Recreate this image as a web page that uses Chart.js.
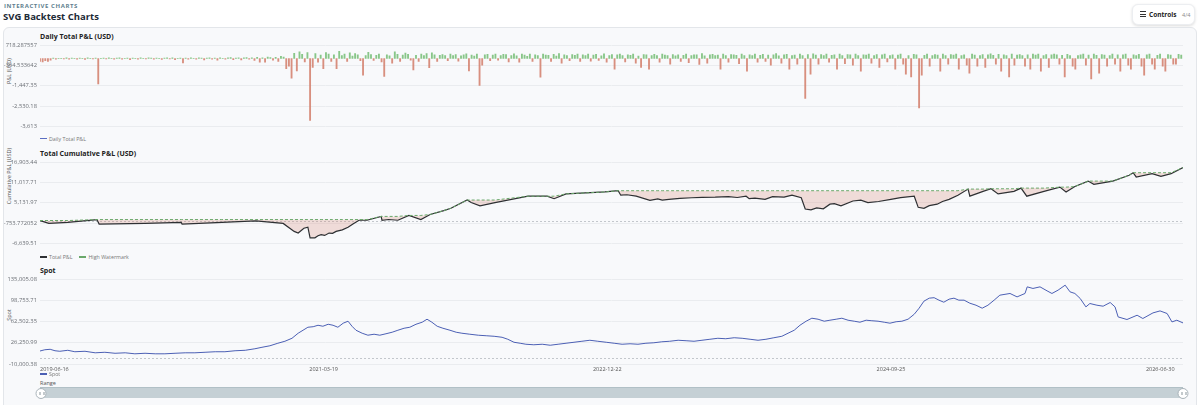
<!DOCTYPE html>
<html lang="en">
<head>
<meta charset="utf-8">
<title>SVG Backtest Charts</title>
<script src="https://cdn.jsdelivr.net/npm/chart.js@4.4.1/dist/chart.umd.min.js"></script>
<style>
  html, body { margin: 0; padding: 0; background: #fff; }
  body { width: 1199px; height: 405px; position: relative; overflow: hidden;
         font-family: "Open Sans", "Noto Sans", sans-serif; }
  div, canvas { position: absolute; }
  .eyebrow { left: 4px; top: 2px; font-size: 6px; line-height: 8px; font-weight: 700; letter-spacing: 0.6px; color: #5f7f8f; }
  .heading { left: 3px; top: 10px; font-size: 9.5px; line-height: 13px; font-weight: 700; color: #1d2a36; }
  .controls { left: 1132px; top: 4px; width: 61px; height: 19px; background: #fff; border-radius: 6px;
              box-shadow: 0 1px 3px rgba(0,0,0,0.14); border: 1px solid #eceef1; }
  .burger { left: 7px; top: 6px; width: 6px; height: 6px; border-top: 1px solid #333; border-bottom: 1px solid #333; box-sizing: border-box; }
  .burger::after { content: ""; position: absolute; left: 0; top: 1.5px; width: 6px; height: 1px; background: #333; }
  .ctl-text { left: 16px; top: 5px; font-size: 6.5px; line-height: 9px; font-weight: 700; color: #222; white-space: nowrap; }
  .ctl-count { left: 49px; top: 5.5px; font-size: 5.5px; line-height: 9px; color: #888; }
  .card { left: 3px; top: 27px; width: 1192px; height: 400px; background: #f8f9fb; border: 1px solid #e3e6ea; border-radius: 6px; }
  .ptitle { left: 40px; font-size: 7px; line-height: 9px; font-weight: 700; color: #222; white-space: nowrap; }
  .ytitle { left: 9px; font-size: 5.5px; line-height: 7px; color: #555; white-space: nowrap;
            transform: translate(-50%, -50%) rotate(-90deg); }
  .legend { left: 40px; height: 7px; display: flex; align-items: center; font-size: 5.3px; color: #777; white-space: nowrap; }
  .legend span { position: static; display: inline-block; }
  .sw { width: 7px; height: 1.5px; margin-right: 2px; }
  .gap { width: 7px; }
  .range-label { left: 40px; top: 380px; font-size: 5.5px; line-height: 7px; color: #555; }
  .track { left: 40px; top: 387px; width: 1143px; height: 11px; background: #c5d0d5; border-top: 1px solid #b1c0c6; box-sizing: border-box; }
  .handle { top: 387.5px; width: 11px; height: 11px; border-radius: 50%; background: #fff; border: 1px solid #a9b3b9; box-sizing: border-box;
            transform: translateX(-50%); }
  .handle::after { content: ""; position: absolute; left: 3px; top: 3px; width: 3px; height: 3px;
                   border-left: 1px solid #8a959b; border-right: 1px solid #8a959b; }
</style>
</head>
<body>
<div class="eyebrow">INTERACTIVE CHARTS</div>
<div class="heading">SVG Backtest Charts</div>
<div class="controls">
  <div class="burger"></div>
  <div class="ctl-text">Controls</div>
  <div class="ctl-count">4/4</div>
</div>
<div class="card"></div>

<div class="ptitle" style="top:32px">Daily Total P&amp;L (USD)</div>
<div class="ytitle" style="top:71px">P&amp;L (USD)</div>
<canvas id="pnlChart" width="1199" height="95" style="left:0;top:38px;width:1199px;height:95px"></canvas>
<div class="legend" style="top:135px"><span class="sw" style="background:#5b6ec2"></span>Daily Total P&amp;L</div>

<div class="ptitle" style="top:149px">Total Cumulative P&amp;L (USD)</div>
<div class="ytitle" style="top:176px">Cumulative P&amp;L (USD)</div>
<canvas id="cumChart" width="1199" height="95" style="left:0;top:155px;width:1199px;height:95px"></canvas>
<div class="legend" style="top:253px"><span class="sw" style="background:#2e3033;height:2px"></span>Total P&amp;L<span class="gap"></span><span class="sw" style="background:#6aa86a;height:2px"></span>High Watermark</div>

<div class="ptitle" style="top:266px">Spot</div>
<div class="ytitle" style="top:315px">Spot</div>
<canvas id="spotChart" width="1199" height="104" style="left:0;top:272px;width:1199px;height:104px"></canvas>
<div class="legend" style="top:370.5px"><span class="sw" style="background:#4b5fb4"></span>Spot</div>

<div class="range-label">Range</div>
<div class="track"></div>
<div class="handle" style="left:40.5px"></div>
<div class="handle" style="left:1183px"></div>

<script>
const FONT = '"Open Sans", "Noto Sans", sans-serif';
const XMAX = 2590; // days shown on the shared date axis

// shared date axis (days since 2019-06-16)
const xTickDays = [0, 642.75, 1285.5, 1928.25, 2571];
const xTickLabels = ['2019-06-16', '2021-03-19', '2022-12-22', '2024-09-25', '2026-06-30'];

// daily P&L, one bar every 6 days
const pnlStepDays = 6;
const pnlDaily = [
  -150, -180, -120, -160, -90, 20, -30, 15, 10, -20, 30, -40,
  25, 10, -30, 20, 15, -50, 30, 10, -20, 25, -1350, 15,
  20, -25, 30, 10, -40, 20, 35, -30, 15, 25, -60, 20,
  10, -40, 30, 15, -20, 40, 20, -30, 25, 15, -50, 20,
  35, -20, 30, -60, 15, 25, -240, 20, -30, 35, 15, -40,
  30, 20, -70, 25, 40, -30, 20, -90, 35, 15, -40, 30,
  45, -60, 25, 40, -80, 30, 50, -40, 35, -100, 60, -200,
  40, -200, 70, 45, -90, 60, -150, 120, 80, -540, -410, -1050,
  280, -660, 350, 220, -180, 310, -3290, -470, 260, -200, 180, -540,
  320, 240, -150, 200, -540, 380, 160, 240, -150, 300, 130, 260,
  190, -120, -880, 150, 330, 210, -100, 170, 240, -180, -950, 200,
  140, -250, 360, 220, -150, 180, 290, 220, -90, -610, 170, -150,
  240, 150, 260, -490, 300, 190, -150, 170, 210, 150, -120, 230,
  160, 210, -140, 140, 190, 250, -660, 180, 130, 240, -1430, -350,
  200, 220, -120, 180, 240, -90, 150, 220, 210, -180, 160, 250,
  140, -200, 230, 180, 120, 240, -160, 200, 150, -985, 240, 180,
  170, -150, 220, 130, 260, -250, 190, 150, -120, 210, 170, 230,
  -160, 200, 150, 240, -140, 180, 220, -100, 140, 250, -200, 160,
  210, -570, 190, 230, 150, -180, 200, 170, 240, -250, 130, -470,
  210, 190, -570, 160, 220, 150, -200, 240, 180, 160, -300, 210,
  140, 200, -150, 170, 230, -220, 150, 190, 200, -310, 260, 140,
  -250, 190, 220, 160, 180, -570, 240, 150, -200, 210, 190, 170,
  -280, 230, 160, -670, 200, 150, 240, -190, 170, 220, -150, 180,
  -360, 200, 260, 140, -250, 190, 220, -570, 160, 180, -300, 240,
  150, -2120, 210, -830, 250, 180, -300, 210, 150, 230, -200, 170,
  200, -570, 240, 160, -280, 210, 190, -350, 230, 150, -670, 200,
  180, 240, -250, 160, 210, -470, 190, 230, -180, 150, 200, -570,
  180, 240, -300, -830, 160, -980, 220, 190, -2630, -880, 170, 240,
  -400, 150, 210, 180, -670, 240, 150, -300, 210, 180, 230, -570,
  160, 200, -350, -780, 230, 180, -400, 150, 210, -470, 200, 250,
  170, -300, 220, -670, 190, 150, -980, 230, -350, 180, 210, 160,
  -400, 200, -570, 230, 180, 240, -670, 160, 210, -470, 190, 240,
  200, -300, 170, -980, 220, 160, -400, -570, 150, 190, 230, -350,
  180, -1090, 230, 170, -780, 210, 180, -400, 160, 240, -300, 200,
  -670, 190, 230, -350, -570, 200, 150, 220, -400, -880, 190, 240,
  -300, -570, 170, 230, -400, -670, 210, 180, -300, -300, 220, 180
];
const pnlTicks = [718.287557, -364.533642, -1447.35, -2530.18, -3613];
const pnlTickLabels = ['718.287557', '-364.533642', '-1,447.35', '-2,530.18', '-3,613'];

// cumulative P&L and its high watermark
const cumDays = [0, 20, 63, 129, 134, 238, 320, 322, 412, 489,
  551, 576, 585, 598, 607, 612, 623, 630, 637, 645,
  655, 663, 671, 685, 698, 710, 723, 741, 773, 775,
  790, 811, 836, 863, 884, 915, 931, 968, 977, 997,
  1031, 1106, 1149, 1165, 1192, 1280, 1310, 1316, 1330, 1351,
  1382, 1400, 1410, 1425, 1450, 1477, 1500, 1530, 1560, 1580,
  1600, 1607, 1620, 1643, 1660, 1686, 1704, 1725, 1734, 1747,
  1760, 1775, 1790, 1800, 1815, 1842, 1860, 1876, 1900, 1928,
  1950, 1981, 1990, 2003, 2015, 2033, 2045, 2060, 2080, 2103,
  2107, 2137, 2155, 2171, 2207, 2223, 2236, 2275, 2311, 2325,
  2345, 2375, 2388, 2431, 2468, 2477, 2484, 2520, 2540, 2563,
  2590];
const cumPnl = [0, -830, -560, 280, -1030, -830, -560, -1030, -560, -80,
  -830, -3140, -3610, -2220, -1940, -5000, -5000, -4400, -4080, -4300,
  -3610, -3700, -3140, -2700, -1940, -900, 80, 80, 1190, 80,
  300, 80, 1470, 280, 1750, 2860, 3530, 5920, 5190, 4250,
  5190, 7030, 7030, 6300, 7700, 8250, 8610, 7310, 7450, 7030,
  5830, 6250, 5900, 6110, 6400, 6580, 6700, 6750, 6900, 6650,
  7030, 6310, 6450, 6110, 6900, 6750, 7310, 6580, 3330, 3060,
  3650, 3400, 4720, 4900, 4250, 5640, 5900, 5190, 5500, 6110,
  6600, 7030, 3810, 3530, 4300, 4720, 5500, 6110, 7300, 9080,
  7030, 8420, 9170, 7700, 8420, 9360, 7030, 8420, 9640, 8250,
  9810, 11390, 10470, 11390, 13060, 13810, 12580, 13530, 12780, 13530,
  15300];
const highWatermark = [0, 0, 0, 280, 280, 280, 280, 280, 280, 280,
  280, 280, 280, 280, 280, 280, 280, 280, 280, 280,
  280, 280, 280, 280, 280, 280, 280, 280, 1190, 1190,
  1190, 1190, 1470, 1470, 1750, 2860, 3530, 5920, 5920, 5920,
  5920, 7030, 7030, 7030, 7700, 8250, 8610, 8610, 8610, 8610,
  8610, 8610, 8610, 8610, 8610, 8610, 8610, 8610, 8610, 8610,
  8610, 8610, 8610, 8610, 8610, 8610, 8610, 8610, 8610, 8610,
  8610, 8610, 8610, 8610, 8610, 8610, 8610, 8610, 8610, 8610,
  8610, 8610, 8610, 8610, 8610, 8610, 8610, 8610, 8610, 9080,
  9080, 9080, 9170, 9170, 9170, 9360, 9360, 9360, 9640, 9640,
  9810, 11390, 11390, 11390, 13060, 13810, 13810, 13810, 13810, 13810,
  15300];
const cumTicks = [16903.44, 11017.71, 5131.97, -753.772052, -6639.51];
const cumTickLabels = ['16,903.44', '11,017.71', '5,131.97', '-753.772052', '-6,639.51'];

// spot price
const spotDays = [0, 11, 23, 34, 45, 63, 79, 102, 125, 147,
  170, 193, 215, 238, 261, 283, 306, 329, 351, 374,
  397, 419, 442, 465, 487, 503, 521, 539, 555, 571,
  585, 596, 607, 619, 630, 641, 653, 664, 675, 687,
  698, 707, 716, 730, 743, 757, 770, 784, 798, 811,
  825, 838, 852, 866, 877, 888, 900, 913, 929, 943,
  956, 974, 993, 1011, 1029, 1047, 1060, 1074, 1088, 1101,
  1119, 1138, 1156, 1174, 1192, 1210, 1228, 1246, 1264, 1283,
  1301, 1319, 1337, 1355, 1373, 1391, 1409, 1427, 1446, 1464,
  1482, 1500, 1518, 1536, 1554, 1573, 1591, 1609, 1627, 1645,
  1663, 1681, 1695, 1709, 1722, 1736, 1749, 1763, 1777, 1790,
  1804, 1817, 1831, 1845, 1858, 1872, 1885, 1899, 1913, 1926,
  1940, 1953, 1967, 1981, 1992, 2003, 2015, 2026, 2037, 2048,
  2060, 2071, 2082, 2094, 2107, 2121, 2135, 2148, 2162, 2175,
  2198, 2214, 2232, 2237, 2250, 2266, 2282, 2293, 2307, 2323,
  2334, 2345, 2357, 2370, 2379, 2395, 2409, 2425, 2436, 2443,
  2463, 2486, 2499, 2522, 2538, 2554, 2565, 2576, 2590];
const spotPrice = [12200, 14300, 15100, 12600, 11700, 13400, 10900, 11700, 9100, 10000,
  8300, 9100, 7400, 8300, 7400, 7400, 8300, 9100, 9100, 10000,
  10900, 10900, 12600, 13400, 16000, 18500, 21100, 25400, 28800, 33900,
  42500, 47600, 52700, 53600, 56100, 54400, 57800, 56100, 52700, 59600,
  63000, 54400, 47600, 42500, 39100, 40800, 39100, 41600, 44200, 47600,
  51000, 52700, 57800, 61300, 66400, 61300, 54400, 51000, 47600, 44200,
  42500, 40800, 39100, 38200, 37300, 35600, 32200, 27100, 25400, 23700,
  22800, 23700, 22000, 23700, 25400, 27100, 28800, 30500, 28800, 27100,
  25400, 23700, 24500, 23700, 25400, 26200, 27900, 28800, 30500, 29700,
  28800, 30500, 32200, 33900, 33100, 34800, 33900, 32200, 30500, 32200,
  34800, 37300, 42500, 47600, 56100, 63000, 68100, 66400, 63000, 64700,
  66400, 68100, 64700, 63000, 61300, 64700, 63800, 63000, 61300, 59600,
  62100, 63000, 66400, 74900, 85200, 97200, 102300, 103100, 98900, 95400,
  100600, 102300, 98900, 98900, 93700, 90300, 85200, 90300, 98900, 107400,
  110300, 104500, 110300, 121600, 118900, 121600, 114800, 110300, 116000, 124500,
  113100, 110300, 101800, 87400, 93200, 90300, 88600, 94900, 87400, 70300,
  65900, 73200, 67600, 77200, 80600, 76100, 61800, 64700, 60100];
const spotTicks = [135005.08, 98753.71, 62502.35, 26250.99, -10000.38];
const spotTickLabels = ['135,005.08', '98,753.71', '62,502.35', '26,250.99', '-10,000.38'];

// dotted line at zero
const zeroLine = {
  id: 'zeroLine',
  beforeDatasetsDraw(chart) {
    const { ctx, chartArea, scales } = chart;
    const y = Math.round(scales.y.getPixelForValue(0)) + 0.5;
    ctx.save();
    ctx.strokeStyle = '#c3c7cc';
    ctx.lineWidth = 1;
    ctx.setLineDash([2, 2]);
    ctx.beginPath();
    ctx.moveTo(chartArea.left, y);
    ctx.lineTo(chartArea.right, y);
    ctx.stroke();
    ctx.restore();
  }
};

function yAxis(ticks, labels) {
  return {
    min: ticks[ticks.length - 1],
    max: ticks[0],
    afterFit: s => { s.width = 40; },
    afterBuildTicks: s => { s.ticks = ticks.map(v => ({ value: v })); },
    ticks: {
      callback: v => labels[ticks.indexOf(v)],
      font: { family: FONT, size: 5.8 },
      color: '#6b6f75',
      padding: 3
    },
    grid: { color: '#eaecef', drawTicks: false },
    border: { display: false }
  };
}

function xAxis(show) {
  return {
    type: 'linear',
    min: 0,
    max: XMAX,
    offset: false,
    display: show,
    afterBuildTicks: s => { s.ticks = xTickDays.map(v => ({ value: v })); },
    afterFit: s => { s.height = show ? 10 : 0; },
    ticks: {
      callback: v => xTickLabels[xTickDays.indexOf(v)],
      align: 'inner',
      maxRotation: 0,
      autoSkip: false,
      font: { family: FONT, size: 5.5 },
      color: '#555',
      padding: 2
    },
    grid: { display: false, drawTicks: false, offset: false },
    border: { display: false }
  };
}

function baseOptions(yTicks, yLabels, showX, padTop, padBottom) {
  return {
    responsive: false,
    animation: false,
    events: [],
    layout: { padding: { left: 0, right: 16, top: padTop, bottom: padBottom } },
    plugins: { legend: { display: false }, tooltip: { enabled: false }, title: { display: false } },
    scales: { x: xAxis(showX), y: yAxis(yTicks, yLabels) }
  };
}

window.onload = function () {
  new Chart(document.getElementById('pnlChart').getContext('2d'), {
    type: 'bar',
    data: {
      datasets: [{
        label: 'Daily Total P&L',
        data: pnlDaily.map((v, i) => ({ x: i * pnlStepDays, y: v })),
        backgroundColor: c => (c.parsed && c.parsed.y < 0 ? 'rgba(210,125,105,0.85)' : 'rgba(108,185,108,0.8)'),
        barThickness: 1.2,
        borderWidth: 0
      }]
    },
    options: baseOptions(pnlTicks, pnlTickLabels, false, 7, 4)
  });

  new Chart(document.getElementById('cumChart').getContext('2d'), {
    type: 'line',
    data: {
      datasets: [{
        label: 'Total P&L',
        data: cumDays.map((d, i) => ({ x: d, y: cumPnl[i] })),
        borderColor: '#2e3033',
        borderWidth: 1.2,
        pointRadius: 0,
        tension: 0,
        order: 2,
        fill: { target: 1, above: 'rgba(0,0,0,0)', below: 'rgba(214,125,105,0.24)' }
      }, {
        label: 'High Watermark',
        data: cumDays.map((d, i) => ({ x: d, y: highWatermark[i] })),
        borderColor: '#6aa86a',
        borderWidth: 1,
        borderDash: [3, 2],
        pointRadius: 0,
        tension: 0,
        order: 1,
        fill: false
      }]
    },
    options: baseOptions(cumTicks, cumTickLabels, false, 7, 3),
    plugins: [zeroLine]
  });

  new Chart(document.getElementById('spotChart').getContext('2d'), {
    type: 'line',
    data: {
      datasets: [{
        label: 'Spot',
        data: spotDays.map((d, i) => ({ x: d, y: spotPrice[i] })),
        borderColor: '#4b5fb4',
        borderWidth: 1,
        pointRadius: 0,
        tension: 0,
        fill: false
      }]
    },
    options: baseOptions(spotTicks, spotTickLabels, true, 7, 2),
    plugins: [zeroLine]
  });
};
</script>
</body>
</html>
